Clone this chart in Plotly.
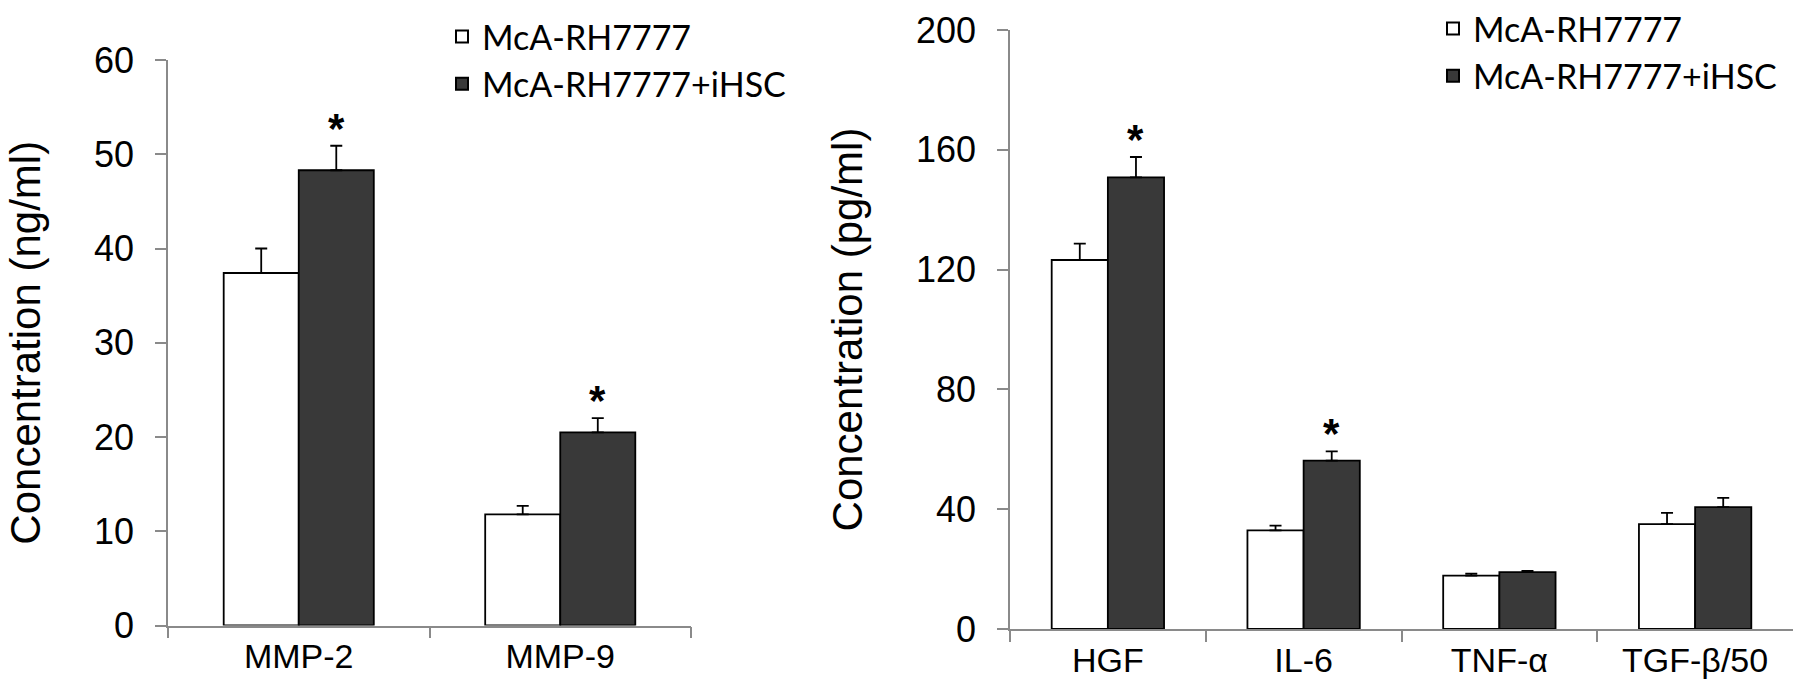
import plotly.graph_objects as go

# ---------------- data ----------------
series_names = ["McA-RH7777", "McA-RH7777+iHSC"]

left_categories = ["MMP-2", "MMP-9"]
left_ctrl = [37.4, 11.8]
left_ctrl_err = [2.6, 0.9]
left_ihsc = [48.3, 20.5]
left_ihsc_err = [2.6, 1.5]
left_sig = [True, True]

right_categories = ["HGF", "IL-6", "TNF-α", "TGF-β/50"]
right_ctrl = [123.2, 32.9, 17.8, 35.0]
right_ctrl_err = [5.5, 1.6, 0.7, 3.8]
right_ihsc = [150.8, 56.2, 19.0, 40.7]
right_ihsc_err = [6.8, 3.1, 0.4, 3.1]
right_sig = [True, True, False, False]

left_yticks = [0, 10, 20, 30, 40, 50, 60]
right_yticks = [0, 40, 80, 120, 160, 200]

# ---------------- style ----------------
W, H = 1795, 692
FONT = "Arial, 'Liberation Sans', sans-serif"
LEG_FONT = "Lato, 'Open Sans', sans-serif"
DARK = "#393939"
AXC = "#8a8a8a"

fig = go.Figure()


def add_pair(cats, c, ce, t, te, xa, ya, legend):
    fig.add_trace(go.Bar(
        x=cats, y=c, name=series_names[0], xaxis=xa, yaxis=ya, legend=legend,
        marker=dict(color="white", line=dict(color="black", width=1.8)),
        error_y=dict(type="data", symmetric=False, array=ce,
                     arrayminus=[0] * len(ce), color="black", thickness=1.8, width=6),
    ))
    fig.add_trace(go.Bar(
        x=cats, y=t, name=series_names[1], xaxis=xa, yaxis=ya, legend=legend,
        marker=dict(color=DARK, line=dict(color="black", width=1.8)),
        error_y=dict(type="data", symmetric=False, array=te,
                     arrayminus=[0] * len(te), color="black", thickness=1.8, width=6),
    ))


add_pair(left_categories, left_ctrl, left_ctrl_err, left_ihsc, left_ihsc_err, "x", "y", "legend")
add_pair(right_categories, right_ctrl, right_ctrl_err, right_ihsc, right_ihsc_err, "x2", "y2", "legend2")

# significance asterisks above the iHSC bars
left_cat_px = (691 - 168) / len(left_categories)
right_cat_px = (1793 - 1010) / len(right_categories)
BARFRAC = 0.574
for cats, vals, errs, sig, xr, yr, catpx in [
    (left_categories, left_ihsc, left_ihsc_err, left_sig, "x", "y", left_cat_px),
    (right_categories, right_ihsc, right_ihsc_err, right_sig, "x2", "y2", right_cat_px),
]:
    for cat, v, e, s in zip(cats, vals, errs, sig):
        if s:
            fig.add_annotation(
                x=cat, y=v + e, xref=xr, yref=yr, text="<b>*</b>", showarrow=False,
                xanchor="center", yanchor="bottom",
                xshift=catpx * BARFRAC / 4, yshift=-8,
                font=dict(family=FONT, size=42, color="black"),
            )

axis_common = dict(
    showline=True, linecolor=AXC, linewidth=1.5, ticks="outside", ticklen=11,
    tickcolor=AXC, tickwidth=1.5, showgrid=False, zeroline=False, automargin=False,
)

fig.update_layout(
    width=W, height=H,
    margin=dict(l=0, r=0, t=0, b=0, autoexpand=False),
    paper_bgcolor="white", plot_bgcolor="white",
    barmode="group", bargap=0.426, bargroupgap=0,
    font=dict(family=FONT, color="black"),
    xaxis=dict(domain=[168 / W, 691 / W], anchor="y", type="category",
               tickson="boundaries", tickfont=dict(size=34), **axis_common),
    yaxis=dict(domain=[(H - 625.5) / H, (H - 60) / H], anchor="x", range=[0, 60],
               tickvals=left_yticks, tickfont=dict(size=36), ticklabelstandoff=14,
               title=dict(text="Concentration (ng/ml)", font=dict(size=42), standoff=40),
               **axis_common),
    xaxis2=dict(domain=[1010 / W, 1793 / W], anchor="y2", type="category",
                tickson="boundaries", tickfont=dict(size=34), **axis_common),
    yaxis2=dict(domain=[(H - 629) / H, (H - 30) / H], anchor="x2", range=[0, 200],
                tickvals=right_yticks, tickfont=dict(size=36), ticklabelstandoff=14,
                title=dict(text="Concentration (pg/ml)", font=dict(size=42), standoff=40),
                **axis_common),
    legend=dict(x=442 / W, y=1 - 8 / H, xanchor="left", yanchor="top",
                font=dict(family=LEG_FONT, size=34, color="black"),
                bgcolor="rgba(0,0,0,0)", tracegroupgap=0, itemsizing="constant"),
    legend2=dict(x=1433 / W, y=1, xanchor="left", yanchor="top",
                 font=dict(family=LEG_FONT, size=34, color="black"),
                 bgcolor="rgba(0,0,0,0)", tracegroupgap=0, itemsizing="constant"),
)

fig.write_html("out.html", config={"displayModeBar": False},
               post_script="document.body.style.margin='0px';")
